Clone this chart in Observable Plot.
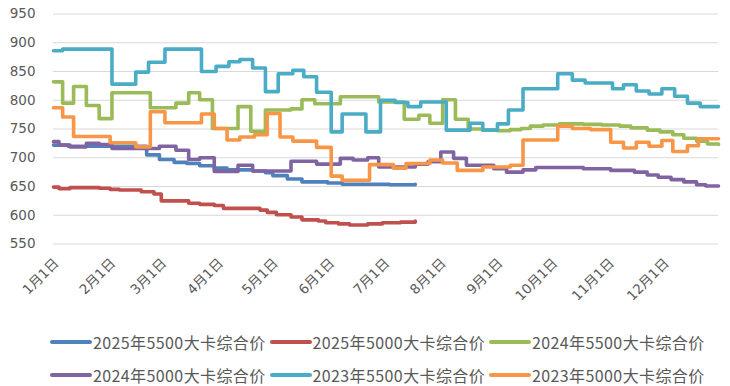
<!DOCTYPE html>
<html>
<head>
<meta charset="utf-8">
<script src="https://cdn.jsdelivr.net/npm/d3@7"></script>
<script src="https://cdn.jsdelivr.net/npm/@observablehq/plot@0.6"></script>
<style>
  html, body { margin: 0; padding: 0; background: #fff; }
  #chart { width: 730px; }
  .legend { margin-top: 10px; font-family: "Noto Sans CJK SC", sans-serif; font-size: 16px; color: #595959; }
  .row { height: 33px; padding-left: 50px; display: flex; align-items: center; }
  .item { width: 219.5px; display: flex; align-items: center; flex: none; }
  .sw { width: 42px; height: 4px; border-radius: 2px; margin-right: 1px; flex: none; }
  .lab { white-space: nowrap; letter-spacing: 0.4px; }
</style>
</head>
<body>
<div id="chart"></div>
<script>
// ---- data (day index from Jan 1, value) ----
const seriesNames = ["2025年5500大卡综合价", "2025年5000大卡综合价", "2024年5500大卡综合价",
                     "2024年5000大卡综合价", "2023年5500大卡综合价", "2023年5000大卡综合价"];
const seriesColors = ["#4F81BD", "#C0504D", "#9BBB59", "#8064A2", "#4BACC6", "#F79646"];

const days2025_5500 = [0,8,51,58,66,73,80,88,95,109,116,120,128,136,150,158,184,198];
const vals2025_5500 = [722,720,705,697,692,690,686,682,679,677,674,669,663,658,656,654,653,654];

const days2025_5000 = [0,3,9,25,31,36,48,55,59,74,80,88,93,113,117,122,130,136,145,149,156,162,172,180,190,198];
const vals2025_5000 = [649,646,648,647,645,644,641,637,625,621,619,617,612,609,605,601,597,592,590,587,585,583,585,587,588,590];

const days2024_5500 = [0,5,11,18,25,32,53,67,74,80,87,101,108,116,130,136,143,157,178,192,200,206,213,220,227,235,243,250,256,261,268,277,290,300,310,316,325,332,339,345,352,358,364];
const vals2024_5500 = [832,795,824,791,768,813,787,795,813,801,751,789,746,783,785,801,794,806,797,767,774,760,801,767,750,748,747,749,751,755,757,759,758,757,755,752,748,745,740,734,729,724,723];

const days2024_5000 = [0,3,9,18,25,32,58,67,74,80,88,101,109,130,144,157,164,172,178,198,205,212,219,226,241,248,257,264,290,305,318,325,331,338,345,352,357,364];
const vals2024_5000 = [728,722,719,725,723,716,720,713,697,700,676,687,677,694,689,699,696,700,684,689,693,710,699,687,681,675,679,683,681,678,675,670,666,662,658,653,651,651];

const days2023_5500 = [0,5,32,45,52,61,81,89,96,102,109,116,123,131,137,144,152,158,171,179,187,194,201,215,228,235,243,249,257,276,284,291,306,312,319,326,333,340,347,354,364];
const vals2023_5500 = [886,889,828,849,866,889,850,859,867,871,856,815,846,852,841,814,745,776,745,800,796,789,797,748,760,748,759,783,820,846,835,830,820,827,816,811,820,807,795,789,789];

const days2023_5000 = [0,5,11,31,45,53,61,81,88,95,102,110,117,124,131,144,152,158,173,186,193,206,213,221,235,250,257,276,284,294,305,312,319,326,333,339,347,353,364];
const vals2023_5000 = [787,771,737,726,719,780,761,776,751,731,736,740,777,736,729,718,668,661,688,682,690,696,691,678,684,687,731,755,751,749,727,717,727,720,730,711,721,733,733];

const yTicks = [550, 600, 650, 700, 750, 800, 850, 900, 950];
const monthLabels = ["1月1日","2月1日","3月1日","4月1日","5月1日","6月1日","7月1日","8月1日","9月1日","10月1日","11月1日","12月1日"];

// ---- build ----
const toDate = d => new Date(Date.UTC(2023, 0, 1 + d));
const allDays = [days2025_5500, days2025_5000, days2024_5500, days2024_5000, days2023_5500, days2023_5000];
const allVals = [vals2025_5500, vals2025_5000, vals2024_5500, vals2024_5000, vals2023_5500, vals2023_5000];
const seriesRows = allDays.map((ds, i) => ds.map((d, j) => ({date: toDate(d), value: allVals[i][j], series: seriesNames[i]})));
const monthTicks = monthLabels.map((_, m) => new Date(Date.UTC(2023, m, 1)));

const font = '"DejaVu Sans", "Noto Sans CJK SC", sans-serif';
const chart = Plot.plot({
  width: 730,
  height: 315,
  marginLeft: 53,
  marginRight: 12,
  marginTop: 13.5,
  marginBottom: 71.5,
  style: {fontFamily: font, fontSize: "13.5px", color: "#595959", background: "#fff"},
  x: {type: "utc", domain: [toDate(0), toDate(364)]},
  y: {domain: [550, 950]},
  marks: [
    Plot.gridY(yTicks, {stroke: "#d9d9d9", strokeOpacity: 1, strokeWidth: 1}),
    Plot.axisY(yTicks, {tickSize: 0, tickPadding: 18, label: null, fontSize: 13.5}),
    Plot.axisX(monthTicks, {tickSize: 0, tickPadding: 6, tickRotate: -45, label: null, dx: 3, dy: 11,
      tickFormat: (d, i) => monthLabels[d.getUTCMonth()], fontSize: 13.5}),
    ...seriesRows.map((rows, i) => Plot.line(rows, {
      x: "date", y: "value", curve: "step-after",
      stroke: seriesColors[i], strokeWidth: 3.6, strokeLinejoin: "round", strokeLinecap: "round"
    }))
  ]
});
document.getElementById("chart").appendChild(chart);

// ---- legend ----
const legend = document.createElement("div");
legend.className = "legend";
[[0,1,2],[3,4,5]].forEach(idx => {
  const row = document.createElement("div");
  row.className = "row";
  idx.forEach(i => {
    const it = document.createElement("div");
    it.className = "item";
    const sw = document.createElement("span");
    sw.className = "sw";
    sw.style.background = seriesColors[i];
    const lab = document.createElement("span");
    lab.className = "lab";
    lab.textContent = seriesNames[i];
    it.appendChild(sw); it.appendChild(lab);
    row.appendChild(it);
  });
  legend.appendChild(row);
});
document.body.appendChild(legend);
</script>
</body>
</html>
